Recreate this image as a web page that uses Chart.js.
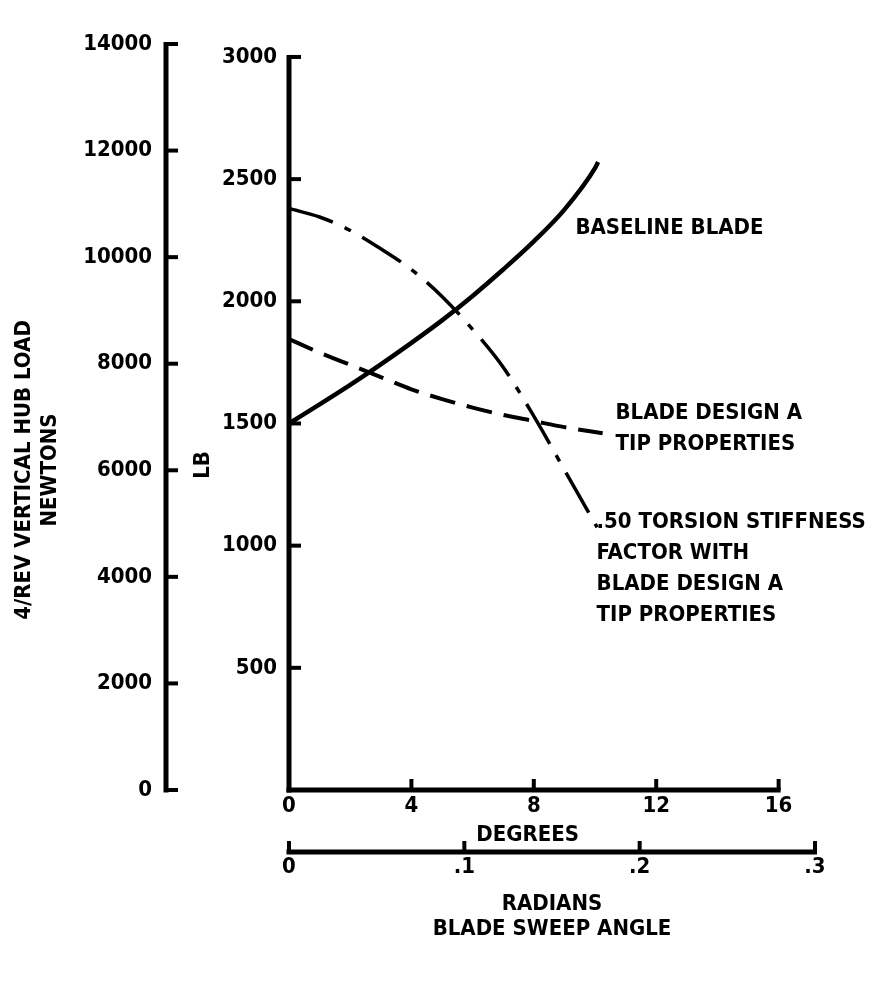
<!DOCTYPE html>
<html>
<head>
<meta charset="utf-8">
<script src="https://cdn.jsdelivr.net/npm/chart.js@4.4.0/dist/chart.umd.min.js"></script>
<style>
    html, body { margin: 0; padding: 0; background: #fff; }
    #wrap { width: 893px; height: 995px; }
</style>
</head>
<body>
<div id="wrap"><canvas id="hub-load-chart"></canvas></div>
<script>
// sweep angle in degrees, load in LB
const sweepBaseline = [0, 1, 2, 3, 4, 5, 6, 7, 8, 9, 10, 10.1];
const loadBaseline = [1500, 1578, 1658, 1742, 1830, 1922, 2022, 2130, 2245, 2375, 2545, 2570];

const sweepDesignA = [0, 1, 2, 3, 4, 5, 6, 7, 8, 9, 10.25];
const loadDesignA = [1845, 1790, 1740, 1690, 1640, 1600, 1565, 1535, 1510, 1485, 1460];

const sweepTorsion = [0, 1, 2, 3, 4, 5, 6, 7, 8, 9, 10.07];
const loadTorsion = [2380, 2345, 2290, 2215, 2130, 2020, 1885, 1730, 1530, 1310, 1075];

const degreeTicks = [0, 4, 8, 12, 16];
const radianTicks = [0, 0.1, 0.2, 0.3];
const lbTicks = [500, 1000, 1500, 2000, 2500, 3000];
const newtonTicks = [0, 2000, 4000, 6000, 8000, 10000, 12000, 14000];

// curve labels, anchored in data units (degrees, LB)
const notes = [
    {lines: ['BASELINE BLADE'], x: 9.36, y: 2300},
    {lines: ['BLADE DESIGN A', 'TIP PROPERTIES'], x: 10.67, y: 1543},
    {lines: ['.50 TORSION STIFFNESS', 'FACTOR WITH', 'BLADE DESIGN A', 'TIP PROPERTIES'], x: 10.05, y: 1097}
];

const fontFamily = "'DejaVu Sans Condensed', 'Liberation Sans Narrow', sans-serif";
const labelFont = {family: fontFamily, size: 22, weight: 'bold'};

function toPoints(xs, ys) {
    return xs.map((x, i) => ({x: x, y: ys[i]}));
}

function fixedTicks(values) {
    return function (axis) {
        axis.ticks = values.map((v) => ({value: v}));
    };
}

function fontString(f) {
    return `${f.weight} ${f.size}px ${f.family}`;
}

// axis lines and inward tick marks, drawn like the original hand-inked figure
const inkedAxes = {
    id: 'inkedAxes',
    afterDatasetsDraw(chart) {
        const ctx = chart.ctx;
        const s = chart.scales;
        ctx.save();
        ctx.strokeStyle = '#000';
        ctx.fillStyle = '#000';
        ctx.lineCap = 'butt';

        [['newton', newtonTicks], ['lb', lbTicks]].forEach(function ([id, ticks]) {
            const axis = s[id];
            const x = axis.right;
            ctx.lineWidth = 5;
            ctx.beginPath();
            ctx.moveTo(x, axis.getPixelForValue(0) + 2.5);
            ctx.lineTo(x, axis.getPixelForValue(ticks[ticks.length - 1]) - 2);
            ctx.stroke();
            ctx.lineWidth = 4;
            ticks.forEach(function (v) {
                const y = axis.getPixelForValue(v);
                ctx.beginPath();
                ctx.moveTo(x, y);
                ctx.lineTo(x + 12, y);
                ctx.stroke();
            });
        });

        [['deg', degreeTicks], ['rad', radianTicks]].forEach(function ([id, ticks]) {
            const axis = s[id];
            const y = axis.top;
            ctx.lineWidth = 5;
            ctx.beginPath();
            ctx.moveTo(axis.getPixelForValue(0) - 2.5, y);
            ctx.lineTo(axis.getPixelForValue(ticks[ticks.length - 1]) + 2, y);
            ctx.stroke();
            ctx.lineWidth = 4;
            ticks.forEach(function (v) {
                if (id === 'deg' && v === 0) {
                    return;
                }
                const x = axis.getPixelForValue(v);
                ctx.beginPath();
                ctx.moveTo(x, y);
                ctx.lineTo(x, y - 11);
                ctx.stroke();
            });
        });

        // axis titles
        ctx.font = fontString(labelFont);
        ctx.textAlign = 'center';
        ctx.textBaseline = 'middle';
        const nt = s.newton;
        const midY = (nt.top + nt.bottom) / 2 + 53;
        ctx.save();
        ctx.translate(nt.left + 24, midY);
        ctx.rotate(-Math.PI / 2);
        ctx.fillText('4/REV VERTICAL HUB LOAD', 0, 0);
        ctx.restore();
        ctx.save();
        ctx.translate(nt.left + 50, midY);
        ctx.rotate(-Math.PI / 2);
        ctx.fillText('NEWTONS', 0, 0);
        ctx.restore();
        ctx.save();
        ctx.translate(s.lb.left + 37, midY - 5);
        ctx.rotate(-Math.PI / 2);
        ctx.fillText('LB', 0, 0);
        ctx.restore();
        ctx.fillText('DEGREES', s.deg.getPixelForValue(7.8), s.deg.top + 45);

        // curve labels
        ctx.textAlign = 'left';
        notes.forEach(function (note) {
            const x = s.deg.getPixelForValue(note.x);
            const y0 = s.lb.getPixelForValue(note.y);
            note.lines.forEach(function (line, i) {
                ctx.fillText(line, x, y0 + i * 31);
            });
        });
        ctx.restore();
    }
};

const curveStyle = {
    borderColor: '#000',
    backgroundColor: '#000',
    pointRadius: 0,
    fill: false,
    cubicInterpolationMode: 'monotone'
};

const plainTicks = {
    color: '#000',
    font: labelFont,
    callback: (v) => String(v)
};

const chartConfig = {
    type: 'line',
    data: {
        datasets: [
            Object.assign({
                label: 'BASELINE BLADE',
                data: toPoints(sweepBaseline, loadBaseline),
                borderWidth: 4.5
            }, curveStyle),
            Object.assign({
                label: 'BLADE DESIGN A TIP PROPERTIES',
                data: toPoints(sweepDesignA, loadDesignA),
                borderWidth: 4,
                borderDash: [26, 12]
            }, curveStyle),
            Object.assign({
                label: '.50 TORSION STIFFNESS FACTOR',
                data: toPoints(sweepTorsion, loadTorsion),
                borderWidth: 3.5,
                borderDash: [46, 13, 7, 13]
            }, curveStyle)
        ]
    },
    options: {
        responsive: true,
        maintainAspectRatio: false,
        animation: false,
        layout: {
            padding: {left: 0, top: 44, right: 78, bottom: 43}
        },
        plugins: {
            legend: {display: false},
            tooltip: {enabled: false}
        },
        scales: {
            deg: {
                type: 'linear',
                position: 'bottom',
                axis: 'x',
                weight: 0,
                min: 0,
                max: 0.3 * 180 / Math.PI,
                afterBuildTicks: fixedTicks(degreeTicks),
                afterFit: function (scale) { scale.height = 62; },
                grid: {display: false, drawTicks: false},
                border: {display: false},
                ticks: Object.assign({}, plainTicks, {padding: 3, maxRotation: 0})
            },
            rad: {
                type: 'linear',
                position: 'bottom',
                axis: 'x',
                display: true,
                weight: 1,
                min: 0,
                max: 0.3,
                afterBuildTicks: fixedTicks(radianTicks),
                afterFit: function (scale) { scale.height = 100; },
                grid: {display: false, drawTicks: false},
                border: {display: false},
                ticks: Object.assign({}, plainTicks, {
                    padding: 2,
                    maxRotation: 0,
                    callback: (v) => v === 0 ? '0' : v.toFixed(1).replace(/^0/, '')
                }),
                title: {
                    display: true,
                    text: ['RADIANS', 'BLADE SWEEP ANGLE'],
                    color: '#000',
                    font: Object.assign({}, labelFont, {lineHeight: 1.15}),
                    padding: {top: 0, bottom: 10}
                }
            },
            lb: {
                type: 'linear',
                position: 'left',
                axis: 'y',
                weight: 0,
                min: 0,
                max: 3053,
                afterBuildTicks: fixedTicks(lbTicks),
                afterFit: function (scale) { scale.width = 123; },
                grid: {display: false, drawTicks: false},
                border: {display: false},
                ticks: Object.assign({}, plainTicks, {padding: 12})
            },
            newton: {
                type: 'linear',
                position: 'left',
                axis: 'y',
                display: true,
                weight: 1,
                min: 0,
                max: 14000,
                afterBuildTicks: fixedTicks(newtonTicks),
                afterFit: function (scale) { scale.width = 166; },
                grid: {display: false, drawTicks: false},
                border: {display: false},
                ticks: Object.assign({}, plainTicks, {padding: 14})
            }
        }
    },
    plugins: [inkedAxes]
};

chartConfig.data.datasets.forEach(function (ds) {
    ds.xAxisID = 'deg';
    ds.yAxisID = 'lb';
});

const chartCanvas = document.querySelector('#hub-load-chart');
if (chartCanvas) {
    const hubLoadChart = new Chart(chartCanvas, chartConfig);
}
</script>
</body>
</html>
